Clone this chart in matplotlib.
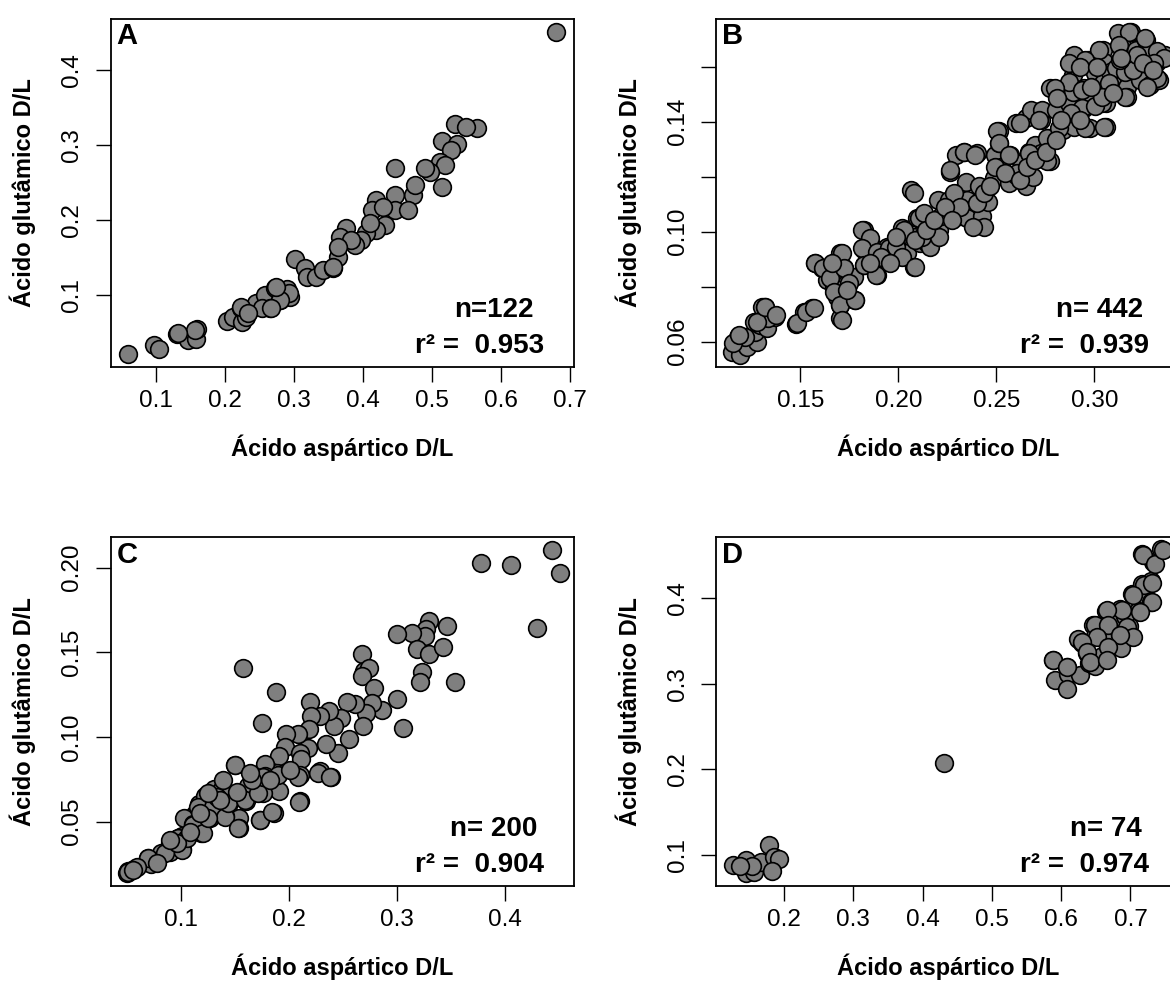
import matplotlib
matplotlib.use('Agg')
import matplotlib.pyplot as plt

plt.rcParams['font.family'] = ['Liberation Sans', 'DejaVu Sans']

# Panel A (n=122)
asp_a = [0.059, 0.0975, 0.104, 0.131, 0.147, 0.158, 0.160, 0.203, 0.211, 0.223,
         0.224, 0.231, 0.235, 0.2445, 0.258, 0.265, 0.2725, 0.280, 0.289, 0.294,
         0.253, 0.3015, 0.316, 0.318, 0.332, 0.3425, 0.357, 0.363,
         0.680, 0.5326, 0.565, 0.549, 0.5136, 0.5354, 0.527, 0.511, 0.519, 0.5136,
         0.497, 0.489, 0.4728, 0.4755, 0.4455, 0.4455, 0.4455, 0.4646, 0.4184, 0.413,
         0.429, 0.432, 0.418, 0.4048, 0.410, 0.3965, 0.3884, 0.3748, 0.3667, 0.383,
         0.364, 0.3558, 0.293, 0.2795, 0.266, 0.274, 0.2224, 0.2333, 0.157, 0.1325]
glu_a = [0.021, 0.0333, 0.028, 0.0476, 0.040, 0.0418, 0.055, 0.0653, 0.070, 0.082,
         0.064, 0.071, 0.078, 0.089, 0.100, 0.082, 0.109, 0.093, 0.1076, 0.0978,
         0.082, 0.148, 0.1356, 0.1236, 0.1244, 0.1333, 0.1356, 0.151,
         0.450, 0.328, 0.322, 0.3245, 0.3058, 0.3013, 0.2933, 0.2778, 0.2733, 0.2444,
         0.2644, 0.269, 0.2333, 0.2467, 0.269, 0.2333, 0.2133, 0.2133, 0.2267, 0.2133,
         0.2178, 0.1933, 0.1867, 0.1822, 0.1956, 0.1733, 0.1667, 0.1889, 0.1778, 0.1733,
         0.1644, 0.1378, 0.1022, 0.0933, 0.0822, 0.111, 0.0844, 0.0756, 0.0533, 0.0489]

# Panel B (n=442)
asp_b = [0.1152, 0.1185, 0.1194, 0.1185, 0.1228, 0.1279, 0.1270, 0.1262, 0.1296, 0.1330,
         0.1306, 0.1321, 0.1372, 0.1338, 0.1219, 0.1160, 0.1480, 0.1517, 0.1560, 0.1577,
         0.1611, 0.1636, 0.1662, 0.1704, 0.1721, 0.1738, 0.1670, 0.1687, 0.1704, 0.1704,
         0.1772, 0.1780, 0.1823, 0.1849, 0.1823, 0.1823, 0.1874, 0.1891, 0.1908, 0.1942,
         0.1976, 0.1993, 0.2020, 0.2045, 0.2079, 0.2079, 0.2112, 0.2096, 0.2130, 0.2147,
         0.1187, 0.1282, 0.1320, 0.1378, 0.1483, 0.1531, 0.1569, 0.1578, 0.1616, 0.1654,
         0.1673, 0.1703, 0.1712, 0.1712, 0.1722, 0.1750, 0.1779, 0.1817, 0.1855, 0.1817,
         0.1827, 0.1885, 0.1894, 0.1951, 0.1990, 0.2028, 0.2018, 0.2085, 0.2066, 0.2081,
         0.2104, 0.2133, 0.2162, 0.2123, 0.2209, 0.2200, 0.2219, 0.2247, 0.2209, 0.2257,
         0.2266, 0.2295, 0.2333, 0.2400, 0.2343, 0.2352, 0.2409, 0.2316, 0.2352, 0.2428,
         0.2439, 0.2381, 0.2458, 0.2486, 0.2495, 0.2515, 0.2515, 0.2524, 0.2562, 0.2572,
         0.2601, 0.2630, 0.2649, 0.2687, 0.2668, 0.2697, 0.2726, 0.2773, 0.2601, 0.2649,
         0.2678, 0.2726, 0.2765, 0.2735, 0.2802, 0.2773, 0.2812, 0.2841, 0.2869, 0.2889,
         0.2898, 0.2889, 0.2889, 0.2889, 0.2869, 0.2898, 0.2946, 0.2946, 0.2975, 0.2965,
         0.3003, 0.2994, 0.3042, 0.3051, 0.3042, 0.3061, 0.3061, 0.3090, 0.3119, 0.3138,
         0.3166, 0.3166, 0.3185, 0.3214, 0.3233, 0.3262, 0.3271, 0.3281, 0.3320, 0.3329,
         0.3358, 0.3081, 0.3110, 0.3157, 0.3195,
         0.3175, 0.3124, 0.3260, 0.3217, 0.3320, 0.3353, 0.3302, 0.3320, 0.3268, 0.3158,
         0.3132, 0.3073, 0.3022, 0.2954, 0.2869, 0.2937, 0.2801, 0.2810, 0.3039, 0.2937,
         0.2878, 0.2717, 0.2759, 0.2819, 0.2954, 0.3048, 0.2620, 0.2502, 0.2511, 0.2664,
         0.2563, 0.2759, 0.2334, 0.2393, 0.2265, 0.2494, 0.2605,
         0.2285, 0.2314, 0.2400, 0.2439, 0.2467, 0.2544, 0.2620, 0.2658, 0.2697, 0.2754,
         0.2802, 0.2830, 0.2925, 0.3002, 0.3040, 0.3097, 0.2982, 0.2925, 0.3011, 0.3135,
         0.3250, 0.3298, 0.1990, 0.2085, 0.2142, 0.2181, 0.2238, 0.2276, 0.1913, 0.1960,
         0.1855, 0.1741, 0.1664]
glu_b = [0.0564, 0.0588, 0.0552, 0.0618, 0.0582, 0.0600, 0.0636, 0.0673, 0.0661, 0.0649,
         0.0727, 0.0727, 0.0691, 0.0685, 0.0618, 0.0594, 0.0664, 0.0709, 0.0721, 0.0885,
         0.0867, 0.0824, 0.0879, 0.0921, 0.0867, 0.0812, 0.0794, 0.0764, 0.0733, 0.0685,
         0.0836, 0.0752, 0.1006, 0.0976, 0.0933, 0.0879, 0.0891, 0.0842, 0.0933, 0.0945,
         0.0933, 0.0970, 0.1012, 0.0921, 0.0873, 0.0982, 0.0958, 0.1049, 0.1055, 0.0958,
         0.0624, 0.0673, 0.0727, 0.0697, 0.0667, 0.0709, 0.0721, 0.0885, 0.0867, 0.0830,
         0.0782, 0.0733, 0.0679, 0.0921, 0.0867, 0.0812, 0.0752, 0.1006, 0.0976, 0.0940,
         0.0879, 0.0842, 0.0927, 0.0940, 0.0945, 0.1006, 0.0909, 0.0873, 0.1152, 0.1140,
         0.1049, 0.1067, 0.0945, 0.0982, 0.1006, 0.1115, 0.1055, 0.1067, 0.0982, 0.1115,
         0.1218, 0.1279, 0.1291, 0.1285, 0.1182, 0.1115, 0.1164, 0.1055, 0.1049, 0.1055,
         0.1018, 0.1018, 0.1109, 0.1194, 0.1279, 0.1321, 0.1364, 0.1236, 0.1176, 0.1279,
         0.1206, 0.1249, 0.1164, 0.1200, 0.1291, 0.1315, 0.1285, 0.1255, 0.1394, 0.1412,
         0.1443, 0.1406, 0.1339, 0.1443, 0.1443, 0.1521, 0.1491, 0.1370, 0.1467, 0.1424,
         0.1382, 0.1509, 0.1612, 0.1570, 0.1545, 0.1642, 0.1521, 0.1449, 0.1376, 0.1624,
         0.1576, 0.1491, 0.1660, 0.1618, 0.1539, 0.1467, 0.1382, 0.1545, 0.1721, 0.1676,
         0.1527, 0.1491, 0.1727, 0.1660, 0.1552, 0.1697, 0.1649, 0.1533, 0.1618, 0.1552,
         0.1642, 0.1582, 0.1594, 0.1582, 0.1588,
         0.1727, 0.1679, 0.1703, 0.1642, 0.1655, 0.1630, 0.1612, 0.1558, 0.1527, 0.1491,
         0.1624, 0.1539, 0.1660, 0.1624, 0.1612, 0.1515, 0.1521, 0.1485, 0.1467, 0.1449,
         0.1430, 0.1406, 0.1339, 0.1376, 0.1376, 0.1382, 0.1394, 0.1364, 0.1321, 0.1285,
         0.1279, 0.1255, 0.1291, 0.1279, 0.1224, 0.1236, 0.1212,
         0.1140, 0.1091, 0.1103, 0.1140, 0.1164, 0.1212, 0.1188, 0.1236, 0.1261, 0.1291,
         0.1333, 0.1406, 0.1406, 0.1455, 0.1491, 0.1503, 0.1527, 0.1600, 0.1600, 0.1630,
         0.1612, 0.1588, 0.0982, 0.0970, 0.1006, 0.1042, 0.1091, 0.1042, 0.0909, 0.0885,
         0.0885, 0.0788, 0.0885]

# Panel C (n=200)
asp_c = [0.4433, 0.3778, 0.4060, 0.4510, 0.4300, 0.3461, 0.3296, 0.3271, 0.3261, 0.3137,
         0.3004, 0.3190, 0.3296, 0.3426, 0.3236, 0.3215, 0.3542, 0.2996, 0.3060, 0.2680,
         0.2697, 0.2743, 0.2680, 0.2785, 0.2863, 0.2768, 0.2715, 0.2687, 0.2556, 0.2616,
         0.2539, 0.2486, 0.2415, 0.2451, 0.2345, 0.2370, 0.2292, 0.2197, 0.2204, 0.2187,
         0.2180, 0.2081, 0.1975, 0.1965, 0.2099, 0.2116, 0.2285, 0.2391, 0.2099, 0.1905,
         0.1887, 0.1905, 0.1782, 0.1782, 0.1764, 0.1729, 0.1863, 0.2106, 0.1570, 0.1880,
         0.1754, 0.1500, 0.1606, 0.1676, 0.1623, 0.1518, 0.1430, 0.1447, 0.1535, 0.1535,
         0.1412, 0.1289, 0.1271, 0.1165, 0.1130, 0.1025, 0.1183, 0.1113, 0.1007, 0.0901,
         0.0972, 0.1007, 0.0901, 0.0813, 0.0690, 0.0725, 0.0567, 0.0514, 0.0496, 0.1306,
         0.1218, 0.1377,
         0.0512, 0.0697, 0.0898, 0.0975, 0.1006, 0.1114, 0.1206, 0.1160,
         0.1299, 0.1407, 0.1531, 0.1438, 0.1593, 0.1731, 0.1840, 0.1716, 0.1762, 0.1901,
         0.2086, 0.2095, 0.2271, 0.2380, 0.1500, 0.1654, 0.1331, 0.1053, 0.0852, 0.0590,
         0.0558, 0.0775, 0.0960, 0.1083, 0.1253, 0.1361, 0.1516, 0.1639, 0.1824, 0.2009,
         0.1392, 0.1253, 0.1176, 0.0898]
glu_c = [0.2104, 0.2025, 0.2015, 0.1966, 0.1645, 0.1655, 0.1685, 0.1635, 0.1596, 0.1616,
         0.1606, 0.1517, 0.1488, 0.1533, 0.1384, 0.1324, 0.1324, 0.1226, 0.1055, 0.1488,
         0.1389, 0.1409, 0.1360, 0.1291, 0.1159, 0.1203, 0.1143, 0.1065, 0.0986, 0.1193,
         0.1206, 0.1114, 0.1065, 0.0907, 0.0957, 0.1153, 0.1124, 0.1206, 0.1124, 0.1045,
         0.0937, 0.1016, 0.1016, 0.0943, 0.0907, 0.0868, 0.0799, 0.0766, 0.0774, 0.0888,
         0.0789, 0.0681, 0.0838, 0.0770, 0.0671, 0.0510, 0.0553, 0.0622, 0.1409, 0.1265,
         0.1084, 0.0833, 0.0622, 0.0770, 0.0711, 0.0671, 0.0652, 0.0612, 0.0524, 0.0465,
         0.0533, 0.0602, 0.0524, 0.0602, 0.0543, 0.0524, 0.0435, 0.0484, 0.0415, 0.0376,
         0.0406, 0.0337, 0.0327, 0.0317, 0.0287, 0.0248, 0.0219, 0.0209, 0.0199, 0.0691,
         0.0652, 0.0691,
         0.0205, 0.0284, 0.0323, 0.0402, 0.0333, 0.0480, 0.0432, 0.0589,
         0.0589, 0.0530, 0.0461, 0.0609, 0.0628, 0.0510, 0.0559, 0.0668, 0.0766, 0.0776,
         0.0766, 0.0618, 0.0786, 0.0766, 0.0835, 0.0746, 0.0648, 0.0402, 0.0313, 0.0234,
         0.0215, 0.0254, 0.0373, 0.0441, 0.0520, 0.0628, 0.0677, 0.0786, 0.0746, 0.0805,
         0.0746, 0.0668, 0.0550, 0.0392]

# Panel D (n=74)
asp_d = [0.1270, 0.1458, 0.1447, 0.1565, 0.1662, 0.1785, 0.1850, 0.1930, 0.1823, 0.1544,
         0.1367, 0.4307, 0.5884, 0.5911, 0.6077, 0.6104, 0.6089, 0.6276, 0.6249, 0.6303,
         0.6373, 0.6395, 0.6491, 0.6464, 0.6491, 0.6652, 0.6678, 0.6705, 0.6652, 0.6625,
         0.6851, 0.6850, 0.6973, 0.7000, 0.7027, 0.7108, 0.7161, 0.7188, 0.7295, 0.7295,
         0.7161, 0.7322, 0.7446, 0.6866, 0.6759, 0.6920, 0.6555, 0.6582,
         0.7185, 0.7354, 0.7474, 0.7195, 0.7306, 0.7040, 0.7306, 0.7137, 0.6873, 0.6657,
         0.6488, 0.6680, 0.6945, 0.7040, 0.6848, 0.6512, 0.6296, 0.6368, 0.6680, 0.6416,
         0.6657, 0.5886, 0.6080]
glu_d = [0.0882, 0.0941, 0.0785, 0.0804, 0.0914, 0.1118, 0.0980, 0.0953, 0.0816, 0.0875,
         0.0875, 0.2069, 0.3272, 0.3041, 0.3193, 0.3107, 0.2939, 0.3096, 0.3519, 0.3472,
         0.3362, 0.3244, 0.3205, 0.3683, 0.3558, 0.3852, 0.3695, 0.3440, 0.3303, 0.3558,
         0.3871, 0.3577, 0.3675, 0.3558, 0.4047, 0.3851, 0.4165, 0.4047, 0.4192, 0.3950,
         0.4517, 0.4419, 0.4576, 0.3421, 0.3754, 0.3793, 0.3675, 0.3323,
         0.4500, 0.4396, 0.4559, 0.4151, 0.4170, 0.4034, 0.3956, 0.3839, 0.3859, 0.3859,
         0.3684, 0.3684, 0.3664, 0.3547, 0.3567, 0.3547, 0.3489, 0.3372, 0.3431, 0.3256,
         0.3275, 0.3275, 0.3197]

panels = [
    dict(x=asp_a, y=glu_a, letter='A', n='n=122', r2='0.953', n_x=0.912,
         rect=[0.0946, 0.6270, 0.3962, 0.3537],
         xlim=(0.0343, 0.7058), ylim=(0.0044, 0.468),
         xticks=[0.1, 0.2, 0.3, 0.4, 0.5, 0.6, 0.7],
         xlabels=['0.1', '0.2', '0.3', '0.4', '0.5', '0.6', '0.7'],
         yticks=[0.1, 0.2, 0.3, 0.4], ylabels=['0.1', '0.2', '0.3', '0.4']),
    dict(x=asp_b, y=glu_b, letter='B', n='n= 442', r2='0.939', n_x=0.921,
         rect=[0.6120, 0.6270, 0.3962, 0.3537],
         xlim=(0.1071, 0.3434), ylim=(0.0509, 0.1773),
         xticks=[0.15, 0.20, 0.25, 0.30],
         xlabels=['0.15', '0.20', '0.25', '0.30'],
         yticks=[0.06, 0.08, 0.10, 0.12, 0.14, 0.16],
         ylabels=['0.06', '', '0.10', '', '0.14', '']),
    dict(x=asp_c, y=glu_c, letter='C', n='n= 200', r2='0.904', n_x=0.920,
         rect=[0.0946, 0.0987, 0.3962, 0.3547],
         xlim=(0.0349, 0.4642), ylim=(0.0120, 0.2179),
         xticks=[0.1, 0.2, 0.3, 0.4], xlabels=['0.1', '0.2', '0.3', '0.4'],
         yticks=[0.05, 0.10, 0.15, 0.20],
         ylabels=['0.05', '0.10', '0.15', '0.20']),
    dict(x=asp_d, y=glu_d, letter='D', n='n= 74', r2='0.974', n_x=0.919,
         rect=[0.6120, 0.0987, 0.3962, 0.3547],
         xlim=(0.1019, 0.7709), ylim=(0.0638, 0.4707),
         xticks=[0.2, 0.3, 0.4, 0.5, 0.6, 0.7],
         xlabels=['0.2', '0.3', '0.4', '0.5', '0.6', '0.7'],
         yticks=[0.1, 0.2, 0.3, 0.4], ylabels=['0.1', '0.2', '0.3', '0.4']),
]

fig = plt.figure(figsize=(11.7, 9.83), dpi=100)

for p in panels:
    ax = fig.add_axes(p['rect'])
    ax.scatter(p['x'], p['y'], s=162, c='#7f7f7f', edgecolors='black',
               linewidths=1.2, zorder=3)
    ax.set_xlim(*p['xlim'])
    ax.set_ylim(*p['ylim'])

    ax.set_xticks(p['xticks'])
    ax.set_xticklabels(p['xlabels'])
    ax.set_yticks(p['yticks'])
    ax.set_yticklabels(p['ylabels'], rotation=90, va='center')
    ax.tick_params(direction='out', length=10.8, width=1.0, labelsize=17.5)
    ax.tick_params(axis='x', pad=6)
    ax.tick_params(axis='y', pad=9)
    for sp in ax.spines.values():
        sp.set_linewidth(1.3)

    ax.set_xlabel('Ácido aspártico D/L', fontsize=17, fontweight='bold', labelpad=16)
    ax.set_ylabel('Ácido glutâmico D/L', fontsize=17, fontweight='bold', labelpad=18)

    ax.text(0.013, 0.99, p['letter'], transform=ax.transAxes, fontsize=21,
            fontweight='bold', ha='left', va='top')
    ax.text(p['n_x'], 0.163, p['n'], transform=ax.transAxes, fontsize=20,
            fontweight='bold', ha='right', va='center')
    ax.text(0.935, 0.06, 'r\u00b2 =  ' + p['r2'], transform=ax.transAxes,
            fontsize=20, fontweight='bold', ha='right', va='center')

fig.savefig('out.png', dpi=100)
